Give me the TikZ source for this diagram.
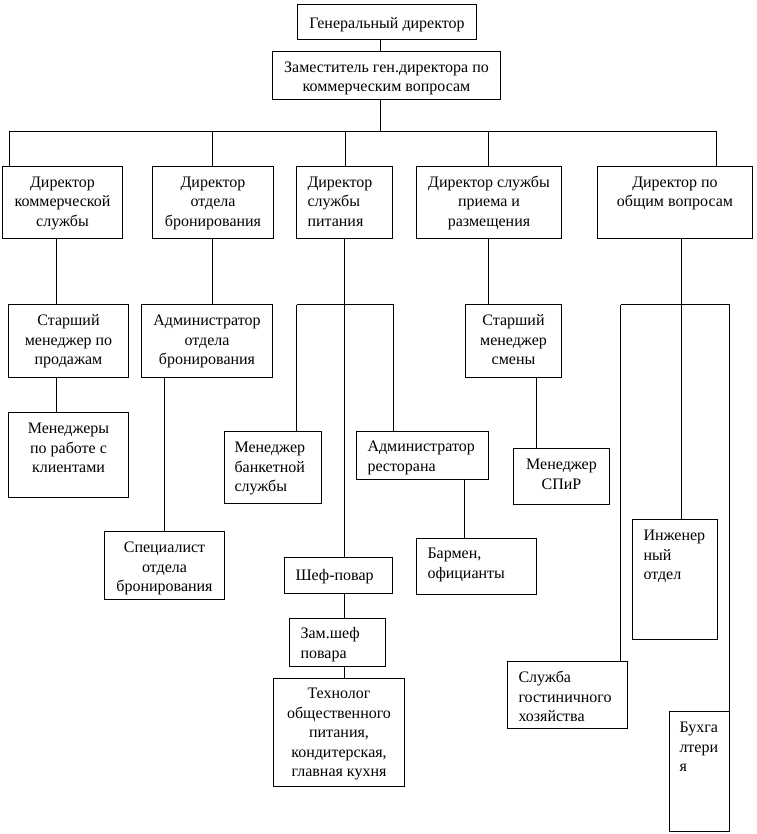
\documentclass[tikz,border=0pt]{standalone}
\usepackage{fontspec}
\setmainfont{Liberation Serif}
\newcommand\ob[8]{%
  \node[box] (#1) at (#2,#3) {\parbox[c][#5pt][t]{#4pt}{#6\rule{0pt}{#7pt}#8\par}};}
\newcommand\CC{\centering}
\newcommand\LL[1]{\raggedright\leftskip=#1pt\relax}
\begin{document}
\begin{tikzpicture}[x=1pt,y=-1pt,
  box/.style={draw, line width=1pt, inner sep=0pt, outer sep=0pt, anchor=north west,
    font=\fontsize{16}{19.5}\selectfont},
  wire/.style={line width=1pt}]
\useasboundingbox (-0.5,-0.5) rectangle (755.5,833.5);
% boxes
\ob{gd}{297}{4}{179}{35}{\CC}{24}{Генеральный директор}
\ob{zam}{272}{51}{228}{48}{\CC}{21}{Заместитель ген.директора по\\коммерческим вопросам}
\ob{d1}{2}{166}{120}{72}{\CC}{21}{Директор\\коммерческой\\службы}
\ob{d2}{152}{166}{121}{72}{\CC}{21}{Директор\\отдела\\бронирования}
\ob{d3}{296}{166}{96}{72}{\LL{11}}{21}{Директор\\службы\\питания}
\ob{d4}{416}{166}{145}{72}{\CC}{21}{Директор службы\\приема и\\размещения}
\ob{d5}{597}{166}{155}{72}{\CC}{21}{Директор по\\общим вопросам}
\ob{s1}{8}{304}{120}{73}{\CC}{21}{Старший\\менеджер по\\продажам}
\ob{a2}{141}{304}{131}{73}{\CC}{21}{Администратор\\отдела\\бронирования}
\ob{s4}{465}{304}{96}{73}{\CC}{21}{Старший\\менеджер\\смены}
\ob{m1}{8}{412}{120}{85}{\CC}{21}{Менеджеры\\по работе с\\клиентами}
\ob{sp}{104}{531}{120}{68}{\CC}{21}{Специалист\\отдела\\бронирования}
\ob{mb}{224}{431}{97}{72}{\LL{10}}{21}{Менеджер\\банкетной\\службы}
\ob{ar}{356}{431}{132}{48}{\LL{11}}{20}{Администратор\\ресторана}
\ob{ms}{513}{448}{96}{56}{\CC}{21}{Менеджер\\СПиР}
\ob{bo}{416}{538}{120}{56}{\LL{11}}{20}{Бармен,\\официанты}
\ob{sh}{284}{557}{108}{36}{\LL{11}}{23}{Шеф-повар}
\ob{zs}{289}{618}{96}{48}{\LL{11}}{20}{Зам.шеф\\повара}
\ob{tx}{273}{678}{131}{108}{\CC}{20}{Технолог\\общественного\\питания,\\кондитерская,\\главная кухня}
\ob{io}{632}{519}{85}{120}{\LL{11}}{21}{Инженер\\ный\\отдел}
\ob{sg}{507}{661}{120}{67}{\LL{11}}{21}{Служба\\гостиничного\\хозяйства}
\ob{bu}{669}{711}{60}{120}{\LL{10}}{21}{Бухга\\лтери\\я}
% bus coordinates
\coordinate (bus) at (380,131);
\coordinate (b1) at (9,131);
\coordinate (b2) at (212,131);
\coordinate (b3) at (345,131);
\coordinate (b4) at (488,131);
\coordinate (b5) at (716,131);
\coordinate (k1) at (56,0);
\coordinate (k2) at (164,0);
\coordinate (p) at (344,304);
\coordinate (pL) at (296,304);
\coordinate (pR) at (393,304);
\coordinate (r) at (536,0);
\coordinate (ba) at (464,0);
\coordinate (g) at (681,304);
\coordinate (gL) at (620,304);
\coordinate (gR) at (729,304);
% connectors
\draw[wire] (gd.south -| bus) -- (zam.north -| bus);
\draw[wire] (zam.south -| bus) -- (bus);
\draw[wire] (b1) -- (b5);
\draw[wire] (b1) -- (d1.north -| b1);
\draw[wire] (b2) -- (d2.north -| b2);
\draw[wire] (b3) -- (d3.north -| b3);
\draw[wire] (b4) -- (d4.north -| b4);
\draw[wire] (b5) -- (d5.north -| b5);
\draw[wire] (d1.south -| k1) -- (s1.north -| k1);
\draw[wire] (s1.south -| k1) -- (m1.north -| k1);
\draw[wire] (d2.south -| b2) -- (a2.north -| b2);
\draw[wire] (a2.south -| k2) -- (sp.north -| k2);
\draw[wire] (d3.south -| p) -- (p);
\draw[wire] (pL) -- (pR);
\draw[wire] (pL) -- (mb.north -| pL);
\draw[wire] (p) -- (sh.north -| p);
\draw[wire] (pR) -- (ar.north -| pR);
\draw[wire] (sh.south -| p) -- (zs.north -| p);
\draw[wire] (zs.south -| p) -- (tx.north -| p);
\draw[wire] (ar.south -| ba) -- (bo.north -| ba);
\draw[wire] (d4.south -| b4) -- (s4.north -| b4);
\draw[wire] (s4.south -| r) -- (ms.north -| r);
\draw[wire] (d5.south -| g) -- (g);
\draw[wire] (gL) -- (gR);
\draw[wire] (g) -- (io.north -| g);
\draw[wire] (gL) -- (sg.north -| gL);
\draw[wire] (gR) -- (bu.north -| gR);
\end{tikzpicture}
\end{document}
